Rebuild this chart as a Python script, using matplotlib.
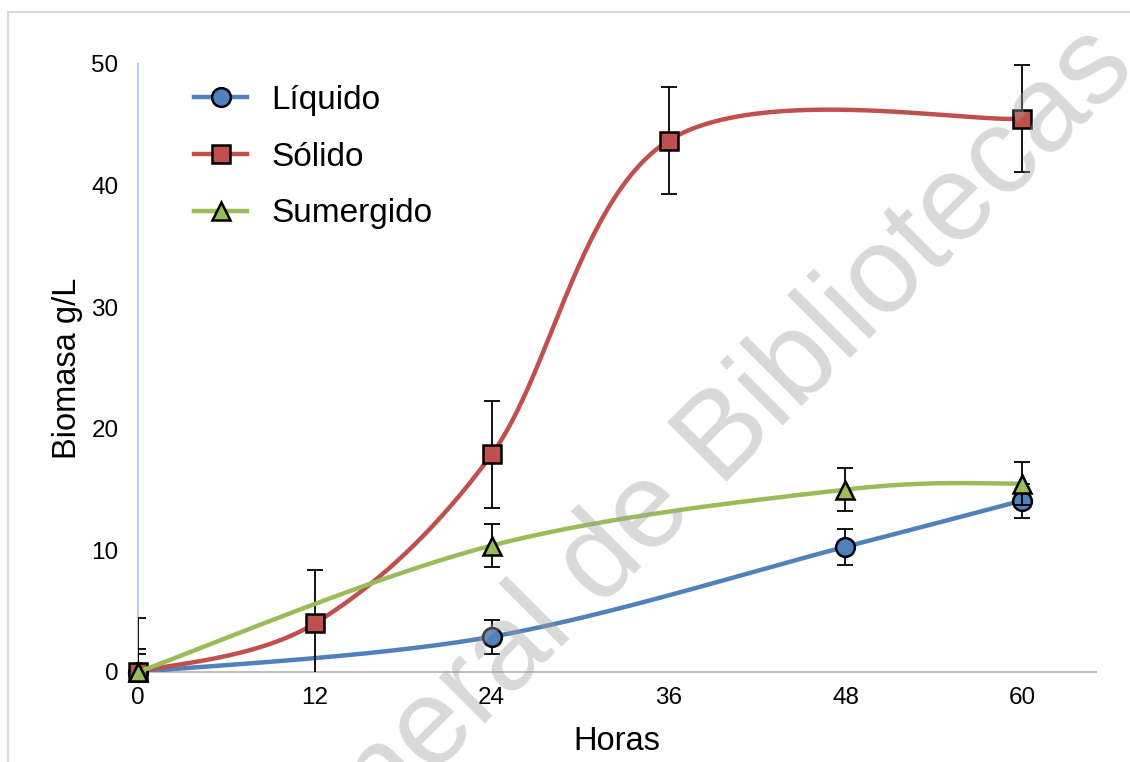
import numpy as np
import matplotlib.pyplot as plt
from matplotlib.patches import Rectangle

plt.rcParams['font.family'] = ['Liberation Sans', 'DejaVu Sans']

# datos
horas_liq = [0, 24, 48, 60]
liquido = [0.0, 2.9, 10.3, 14.1]
err_liq = [1.5, 1.4, 1.5, 1.4]

horas_sol = [0, 12, 24, 36, 60]
solido = [0.0, 4.0, 17.9, 43.7, 45.5]
err_sol = [4.4, 4.4, 4.4, 4.4, 4.4]

horas_sum = [0, 24, 48, 60]
sumergido = [0.0, 10.4, 15.0, 15.5]
err_sum = [1.9, 1.8, 1.8, 1.8]

ticks_x = [0, 12, 24, 36, 48, 60]
ticks_y = [0, 10, 20, 30, 40, 50]


def suavizar(x, y, n=60):
    # curva suavizada tipo Excel (Bezier con tangentes Catmull-Rom)
    p = np.column_stack([x, y]).astype(float)
    p = np.vstack([p[0], p, p[-1]])
    t = np.linspace(0, 1, n)[:, None]
    out = []
    for i in range(1, len(p) - 2):
        p0, p1, p2, p3 = p[i - 1], p[i], p[i + 1], p[i + 2]
        c1 = p1 + (p2 - p0) / 6
        c2 = p2 - (p3 - p1) / 6
        seg = ((1 - t) ** 3 * p1 + 3 * (1 - t) ** 2 * t * c1
               + 3 * (1 - t) * t ** 2 * c2 + t ** 3 * p2)
        out.append(seg)
    out = np.vstack(out)
    return out[:, 0], out[:, 1]


W, H = 1130, 762
fig = plt.figure(figsize=(W / 100, H / 100), dpi=100)
ax = fig.add_axes([138 / W, 1 - 672 / H, 958 / W, 608 / H])

series = [
    ('Líquido', horas_liq, liquido, err_liq, '#4F81BD', 'o'),
    ('Sólido', horas_sol, solido, err_sol, '#C0504D', 's'),
    ('Sumergido', horas_sum, sumergido, err_sum, '#9BBB59', '^'),
]

for k, (nombre, x, y, e, col, mk) in enumerate(series):
    ax.errorbar(x, y, yerr=e, fmt='none', ecolor='black', elinewidth=1.3,
                capsize=5.5, capthick=1.3, zorder=2 + k * 3)
    xs, ys = suavizar(x, y)
    ax.plot(xs, ys, color=col, lw=3.2, zorder=3 + k * 3,
            solid_capstyle='round')
    ax.plot(x, y, ls='none', marker=mk, ms=13.5, mfc=col, mec='black',
            mew=1.8, zorder=4 + k * 3, clip_on=False)
    # entrada de leyenda
    ax.plot([], [], color=col, lw=3.2, marker=mk, ms=13.5, mfc=col,
            mec='black', mew=1.8, label=nombre)

ax.set_xlim(0, 65)
ax.set_ylim(0, 50)
ax.set_xticks(ticks_x)
ax.set_yticks(ticks_y)
ax.tick_params(length=0, labelsize=17.5)
ax.tick_params(axis='x', pad=11)
ax.tick_params(axis='y', pad=14)

for s in ['top', 'right']:
    ax.spines[s].set_visible(False)
ax.spines['left'].set_color('#B9CDE5')
ax.spines['left'].set_linewidth(1.5)
ax.spines['bottom'].set_color('#BFBFBF')
ax.spines['bottom'].set_linewidth(1.5)

ax.set_xlabel('Horas', fontsize=23.5)
ax.set_ylabel('Biomasa g/L', fontsize=23.5)
ax.xaxis.set_label_coords(0.5, -0.088)
ax.yaxis.set_label_coords(-0.057, 0.5)

leg = ax.legend(loc='upper left', bbox_to_anchor=((194 - 138) / 958, 1 + (64 - 85) / 608),
                frameon=False, fontsize=24, handlelength=1.6, handletextpad=0.72,
                labelspacing=0.77, borderpad=0, borderaxespad=0)

# borde del area del grafico
fig.patches.append(Rectangle((8 / W, -0.05), 1.1, 1 - 12 / H + 0.05,
                             transform=fig.transFigure, fill=False,
                             edgecolor='#D9D9D9', lw=1.5))

# marca de agua
fig.text(268 / W, 1 - 940 / H, 'General de Bibliotecas', fontsize=88,
         rotation=45, rotation_mode='anchor', ha='left', va='baseline',
         color='#A0A0A0', alpha=0.4, zorder=20)

fig.savefig('out.png', dpi=100)
